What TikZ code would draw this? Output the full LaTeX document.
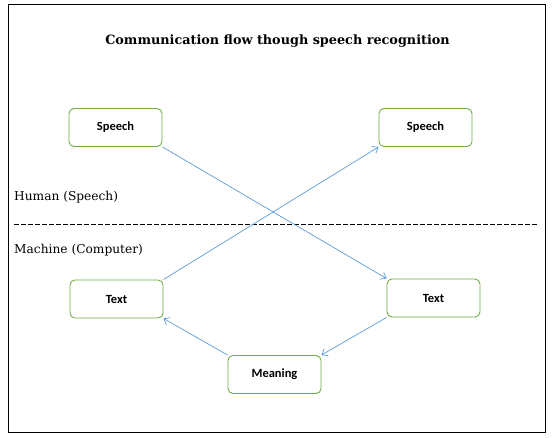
\documentclass[tikz,border=0pt]{standalone}
\usepackage{fontspec}
\setmainfont{DejaVu Serif}
\newfontfamily\boxfont{Carlito}
\usetikzlibrary{arrows.meta}
\definecolor{boxgreen}{RGB}{112,173,71}
\definecolor{arrowblue}{RGB}{91,155,213}
\tikzset{
  stepbox/.style={draw=boxgreen, line width=0.9pt, rounded corners=5pt, minimum width=93pt, minimum height=38pt, font=\boxfont\bfseries\fontsize{12.5}{14}\selectfont, fill=white},
  flow/.style={draw=arrowblue, line width=0.7pt, -{Straight Barb[length=5pt,width=8pt]}},
  lbl/.style={font=\fontsize{12.2}{15}\selectfont, anchor=west, inner sep=0pt}
}
\begin{document}
\begin{tikzpicture}[x=1pt,y=-1pt]
\useasboundingbox (0,0) rectangle (553,438);
\draw[line width=0.9pt] (8,4) rectangle (545,432);
\node[font=\bfseries\fontsize{12.8}{16}\selectfont] (title) at (277.5,41) {Communication flow though speech recognition};
\node[stepbox] (s1) at (115.5,127.5) {Speech};
\node[stepbox] (s2) at (425.5,127.5) {Speech};
\node[stepbox] (t1) at (116.5,299) {Text};
\node[stepbox] (t2) at (433.5,298) {Text};
\node[stepbox] (m) at (274.5,374.5) {Meaning};
\node[lbl] (human) at (14,197) {Human (Speech)};
\node[lbl] (machine) at (14,250) {Machine (Computer)};
\coordinate (d1) at (14,224);
\coordinate (d2) at (537,224);
\draw[dashed, dash pattern=on 5pt off 2pt, line width=0.7pt] (d1) -- (d2);
\draw[flow] (s1.south east) -- (t2.north west);
\draw[flow] (t1.north east) -- (s2.south west);
\draw[flow] (t2.south west) -- (m.north east);
\draw[flow] (m.north west) -- (t1.south east);
\end{tikzpicture}
\end{document}
